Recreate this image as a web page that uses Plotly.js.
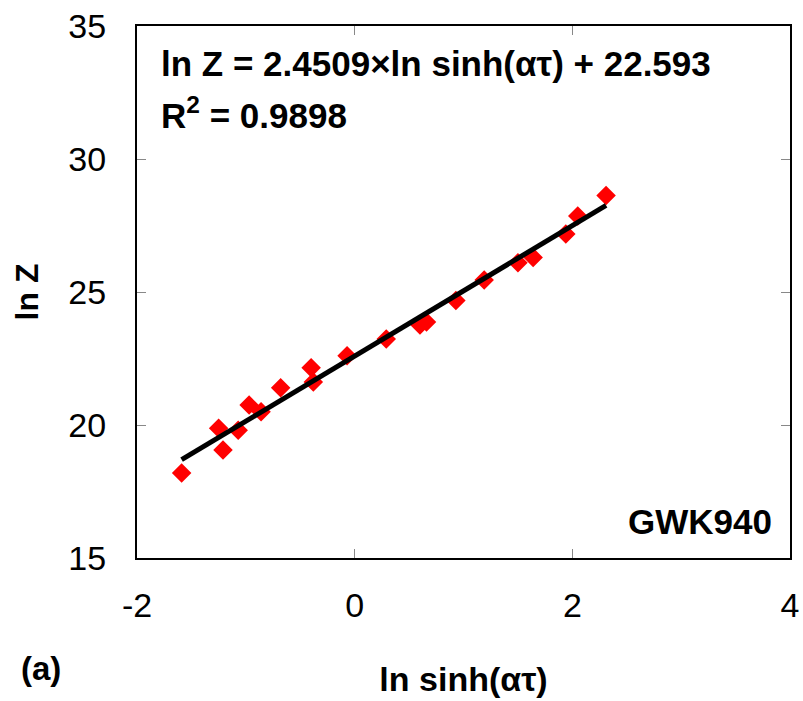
<!DOCTYPE html>
<html>
<head>
<meta charset="utf-8">
<script src="https://cdn.plot.ly/plotly-3.0.1.min.js"></script>
<style>html,body{margin:0;padding:0;background:#fff;}#chart{width:803px;height:701px;}</style>
</head>
<body>
<div id="chart"></div>
<script>
const lnSinh = [-1.59, -1.25, -1.21, -1.07, -0.97, -0.86, -0.68, -0.40, -0.38, -0.07,
                0.29, 0.60, 0.66, 0.93, 1.19, 1.50, 1.64, 1.94, 2.05, 2.31];
const lnZ = [18.20, 19.88, 19.06, 19.80, 20.75, 20.50, 21.40, 22.15, 21.62, 22.60,
             23.23, 23.76, 23.87, 24.68, 25.45, 26.10, 26.30, 27.18, 27.86, 28.63];
// Linear fit coefficients
const slope = 2.4509;
const intercept = 22.593;
const r2 = 0.9898;
const sampleLabel = "GWK940";
const panelLabel = "(a)";
// Tick labels
const xTickVals = [-2, 0, 2, 4];
const xTickText = ['-2', '0', '2', '4'];
const yTickVals = [15, 20, 25, 30, 35];
const yTickText = ['15', '20', '25', '30', '35'];

const xmin = Math.min(...lnSinh), xmax = Math.max(...lnSinh);
const fitX = [xmin, xmax];
const fitY = fitX.map(v => slope * v + intercept);

const FONT = "Liberation Sans, Arial, sans-serif";

const data = [
  {x: lnSinh, y: lnZ, type: 'scatter', mode: 'markers',
   marker: {symbol: 'diamond', size: 15, color: '#ff0000'}},
  {x: fitX, y: fitY, type: 'scatter', mode: 'lines',
   line: {color: '#000000', width: 5}}
];

const layout = {
  width: 803, height: 701,
  margin: {l: 137, r: 13, t: 26, b: 143},
  paper_bgcolor: '#ffffff', plot_bgcolor: '#ffffff',
  showlegend: false,
  font: {family: FONT, color: '#000'},
  xaxis: {
    range: [-2, 4], tickmode: 'array', tickvals: xTickVals, ticktext: xTickText,
    showgrid: false, zeroline: false,
    showline: true, linecolor: '#000', linewidth: 2, mirror: 'ticks',
    ticks: 'inside', ticklen: 9, tickcolor: '#888', tickwidth: 1,
    tickfont: {family: FONT, size: 34, color: '#000'},
    ticklabelstandoff: 16,
    title: {text: '<b>ln sinh(ατ)</b>', font: {family: FONT, size: 34, color: '#000'}, standoff: 44}
  },
  yaxis: {
    range: [15, 35], tickmode: 'array', tickvals: yTickVals, ticktext: yTickText,
    showgrid: false, zeroline: false,
    showline: true, linecolor: '#000', linewidth: 2, mirror: 'ticks',
    ticks: 'inside', ticklen: 9, tickcolor: '#888', tickwidth: 1,
    tickfont: {family: FONT, size: 34, color: '#000'},
    ticklabelstandoff: 22,
    title: {text: '<b>ln Z</b>', font: {family: FONT, size: 32, color: '#000'}, standoff: 20}
  },
  annotations: [
    {xref: 'paper', yref: 'paper', x: 0.033, y: 0.93, xanchor: 'left', yanchor: 'middle',
     text: '<b>ln Z = ' + slope.toFixed(4) + '×ln sinh(ατ) + ' + intercept.toFixed(3) + '</b>',
     showarrow: false, font: {family: FONT, size: 35, color: '#000'}},
    {xref: 'paper', yref: 'paper', x: 0.033, y: 0.836, xanchor: 'left', yanchor: 'middle',
     text: '<b>R<sup>2</sup> = ' + r2.toFixed(4) + '</b>',
     showarrow: false, font: {family: FONT, size: 35, color: '#000'}},
    {xref: 'paper', yref: 'paper', x: 0.975, y: 0.068, xanchor: 'right', yanchor: 'middle',
     text: '<b>' + sampleLabel + '</b>',
     showarrow: false, font: {family: FONT, size: 35, color: '#000'}},
    {xref: 'paper', yref: 'paper', x: -0.181, y: -0.207, xanchor: 'left', yanchor: 'middle',
     text: '<b>' + panelLabel + '</b>',
     showarrow: false, font: {family: FONT, size: 33, color: '#000'}}
  ]
};

Plotly.newPlot('chart', data, layout, {staticPlot: true, displayModeBar: false});
</script>
</body>
</html>
